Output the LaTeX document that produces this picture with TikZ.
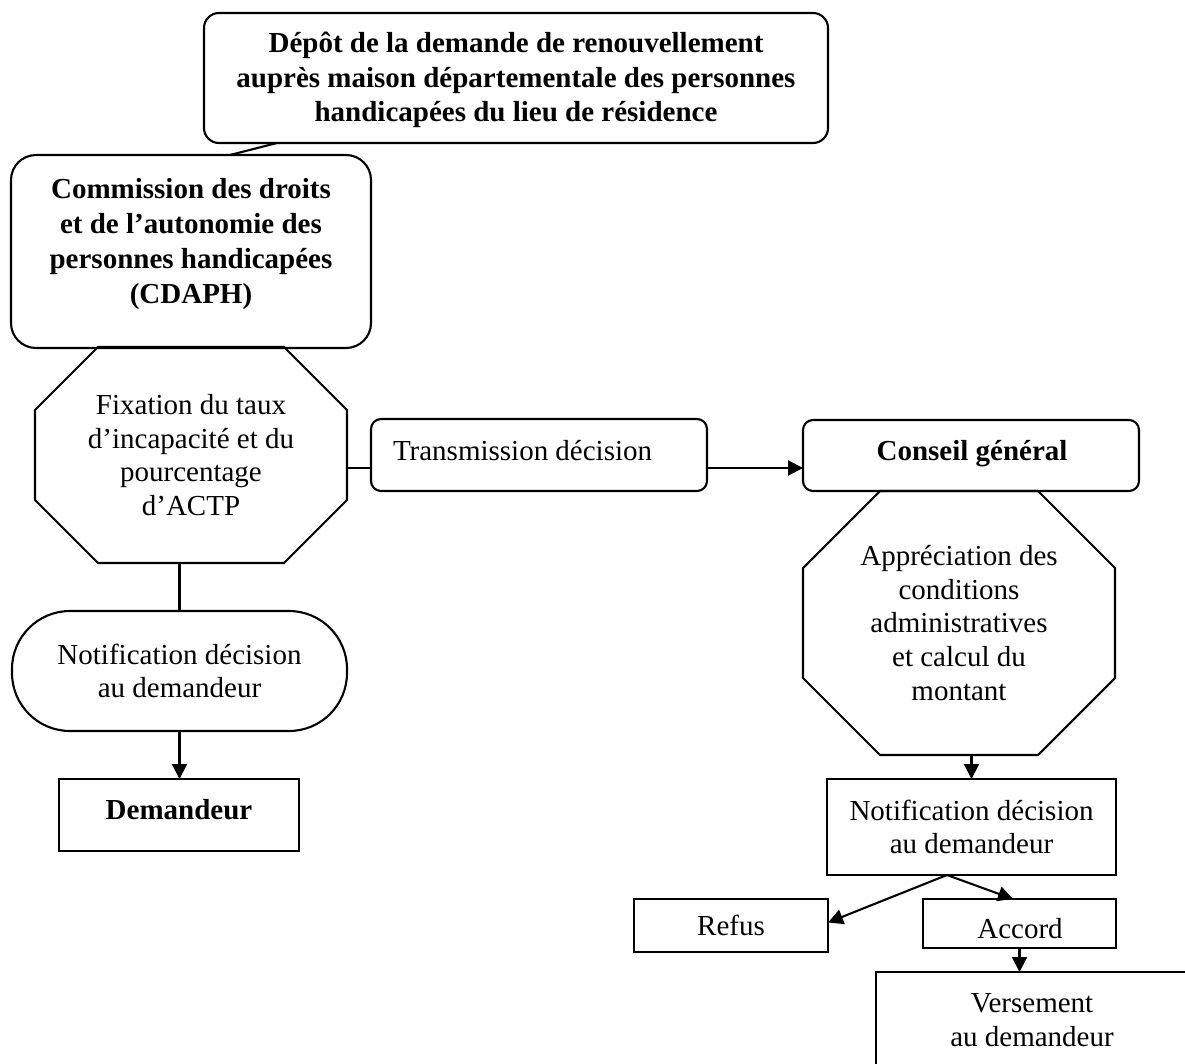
\documentclass[tikz,border=0pt]{standalone}
\usepackage{fontspec}
\setmainfont{Liberation Serif}
\usetikzlibrary{arrows.meta,calc}
\newcommand\octo[2]{\draw ($(#1.north west)+(#2,0)$) -- ($(#1.north east)+(-#2,0)$) -- ($(#1.north east)+(0,#2)$) -- ($(#1.south east)+(0,-#2)$) -- ($(#1.south east)+(-#2,0)$) -- ($(#1.south west)+(#2,0)$) -- ($(#1.south west)+(0,-#2)$) -- ($(#1.north west)+(0,#2)$) -- cycle;}
\begin{document}
\begin{tikzpicture}[x=1pt,y=-1pt,line width=2.1pt,
  every node/.style={outer sep=0pt,inner sep=0pt},
  txt/.style={font=\fontsize{29}{33.6}\selectfont,align=center},
  btxt/.style={font=\fontsize{29}{34.8}\selectfont\bfseries,align=center},
  arr/.style={-{Triangle[length=15pt,width=15pt]}}]
\clip (0,0) rectangle (1185,1063);
\fill[white] (0,0) rectangle (1185,1063);

% top box
\node[draw,rounded corners=15pt,minimum width=624pt,minimum height=130pt] (top) at (516,78) {};
\node[btxt] (topT) at (516,80)
  {Dépôt de la demande de renouvellement\\auprès maison départementale des personnes\\handicapées du lieu de résidence};

% CDAPH
\node[draw,rounded corners=25pt,minimum width=360pt,minimum height=193pt] (cdaph) at (191,251.5) {};
\node[btxt] (cdaphT) at (191,244) {Commission des droits\\et de l’autonomie des\\personnes handicapées\\(CDAPH)};

% octagon 1
\node[minimum width=312pt,minimum height=216pt,txt] (oct1) at (191,455)
  {Fixation du taux\\d’incapacité et du\\pourcentage\\d’ACTP};
\octo{oct1}{63}

% stadium
\node[draw,rounded corners=58pt,minimum width=335pt,minimum height=120pt,txt] (stad) at (179.5,671)
  {Notification décision\\au demandeur};

% Demandeur
\node[draw,minimum width=240pt,minimum height=72pt] (dem) at (179,815) {};
\node[btxt,anchor=base] (demT) at (179,819) {Demandeur};

% Transmission
\node[draw,rounded corners=10pt,minimum width=336pt,minimum height=72pt] (trans) at (539,455) {};
\node[txt,anchor=base west] (transT) at (393,460) {Transmission décision};

% Conseil général
\node[draw,rounded corners=10pt,minimum width=336pt,minimum height=71pt] (cg) at (971,455.5) {};
\node[btxt,anchor=base] (cgT) at (972,460) {Conseil général};

% octagon 2
\node[minimum width=312pt,minimum height=264pt,txt] (oct2) at (959,623)
  {Appréciation des\\conditions\\administratives\\et calcul du\\montant};
\octo{oct2}{77}

% notification 2
\node[draw,minimum width=289pt,minimum height=96pt,txt] (notif) at (971.5,827)
  {Notification décision\\au demandeur};

\node[draw,minimum width=194pt,minimum height=53pt,txt] (refus) at (731,925.5) {Refus};
\node[draw,minimum width=193pt,minimum height=49pt] (accord) at (1019.5,923.5) {};
\node[txt,anchor=base] (accordT) at (1020,938) {Accord};
\node[draw,minimum width=312pt,minimum height=96pt,txt] (vers) at (1032,1020) {Versement\\au demandeur};

% connectors
\draw ($(top.south west)+(73,0)$) -- ($(cdaph.north west)+(219,0)$);
\draw ($(oct1.east)+(0,13)$) -- ($(trans.west)+(0,13)$);
\draw[arr] ($(trans.east)+(0,13)$) -- ($(cg.west)+(0,12.5)$);
\draw (oct1.south -| stad.north) -- (stad.north);
\draw[arr] (stad.south) -- (stad.south |- dem.north);
\draw[arr] (notif.north |- oct2.south) -- (notif.north);
\coordinate (split) at ($(notif.south)+(-24.5,0)$);
\draw[arr] (split) -- ($(refus.east)+(0,-3)$);
\draw[arr] (split) -- ($(accord.north)+(-6.5,0)$);
\draw[arr] (accord.south) -- (accord.south |- vers.north);
\end{tikzpicture}
\end{document}
